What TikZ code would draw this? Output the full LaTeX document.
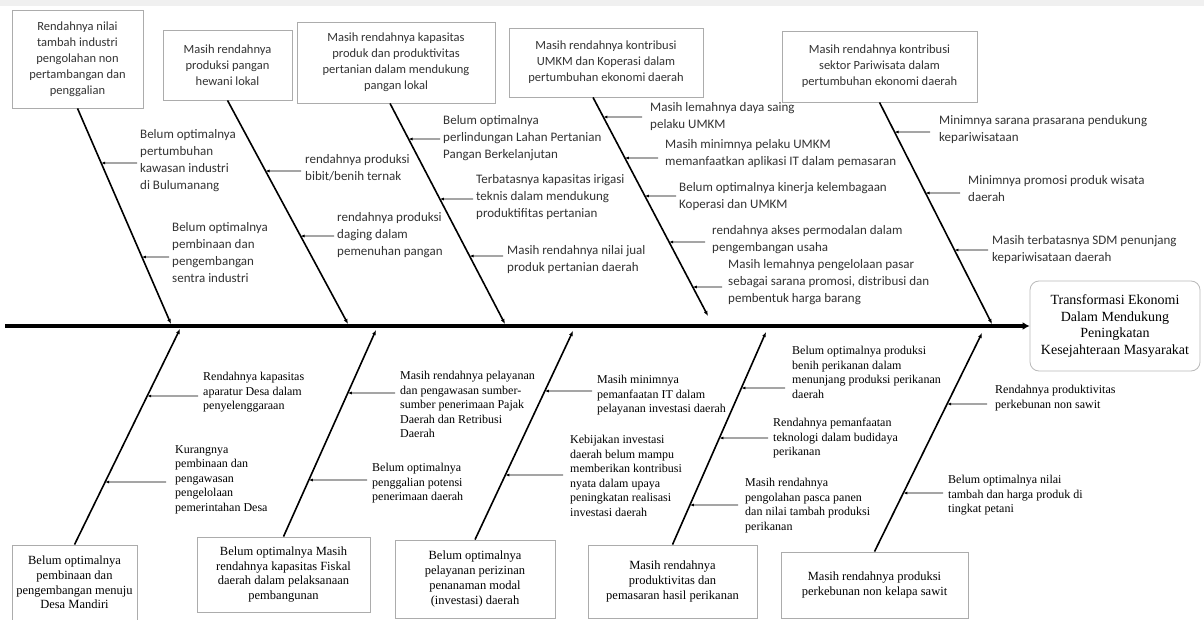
\documentclass[tikz,border=0pt]{standalone}
\usepackage{fontspec}
\setmainfont{Liberation Serif}
\newfontfamily\carl{Carlito}
\usetikzlibrary{arrows.meta}
\newcommand\fbcause[8]{%
  \node[#1] (#2) at (#4,#5) {#8};
  \coordinate (#2s) at (#7,#6);
  \coordinate (#2e) at (intersection of #3s--#3e and 0,#6--10,#6);
  \draw[carrow] (#2s) -- (#2e);}
\begin{document}
\begin{tikzpicture}[x=1pt,y=-1pt,
  tbox/.style={draw=gray!65, line width=0.8pt, fill=white, inner sep=2pt, align=center, font=\carl\fontsize{12.5}{16}\selectfont, text=black!80},
  bbox/.style={draw=gray!65, line width=0.8pt, fill=white, inner sep=2pt, align=center, font=\fontsize{12.5}{14.8}\selectfont},
  ebox/.style={draw=gray!55, line width=0.8pt, rounded corners=9pt, fill=white, align=center, font=\fontsize{14}{16.5}\selectfont},
  tcause/.style={anchor=north west, inner sep=0pt, align=left, font=\carl\fontsize{13}{17}\selectfont, text=black!80},
  bcause/.style={anchor=north west, inner sep=0pt, align=left, font=\fontsize{12}{14.5}\selectfont},
  bone/.style={line width=1.6pt, -{Latex[length=5pt,width=4pt]}},
  carrow/.style={line width=0.8pt, -{Latex[length=4pt,width=3pt]}},
  spine/.style={line width=3.5pt, -{Latex[length=7pt,width=8pt]}}]
\useasboundingbox (0,0) rectangle (1204,620);
\fill[white] (0,0) rectangle (1204,620);
\fill[gray!12] (0,0) rectangle (1204,6);

% top boxes
\node[tbox, minimum width=131pt, minimum height=98pt] (B1) at (77.5,59) {Rendahnya nilai\\tambah industri\\pengolahan non\\pertambangan dan\\penggalian};
\node[tbox, minimum width=129pt, minimum height=70pt] (B2) at (227.5,65) {Masih rendahnya\\produksi pangan\\hewani lokal};
\node[tbox, minimum width=198pt, minimum height=81pt] (B3) at (396,62.5) {Masih rendahnya kapasitas\\produk dan produktivitas\\pertanian dalam mendukung\\pangan lokal};
\node[tbox, minimum width=194pt, minimum height=69pt] (B4) at (606,62.5) {Masih rendahnya kontribusi\\UMKM dan Koperasi dalam\\pertumbuhan ekonomi daerah};
\node[tbox, minimum width=195pt, minimum height=71pt] (B5) at (879.5,66.5) {Masih rendahnya kontribusi\\sektor Pariwisata dalam\\pertumbuhan ekonomi daerah};

% bottom boxes
\node[bbox, minimum width=125pt, minimum height=75pt] (B6) at (74.5,582.5) {Belum optimalnya\\pembinaan dan\\pengembangan menuju\\Desa Mandiri};
\node[bbox, minimum width=173pt, minimum height=75pt] (B7) at (283.5,574.5) {Belum optimalnya Masih\\rendahnya kapasitas Fiskal\\daerah dalam pelaksanaan\\pembangunan};
\node[bbox, minimum width=160pt, minimum height=78pt] (B8) at (475,579) {Belum optimalnya\\pelayanan perizinan\\penanaman modal\\(investasi) daerah};
\node[bbox, minimum width=169pt, minimum height=73pt] (B9) at (672.5,581.5) {Masih rendahnya\\produktivitas dan\\pemasaran hasil perikanan};
\node[bbox, minimum width=187pt, minimum height=66pt] (B10) at (874.5,585) {Masih rendahnya produksi\\perkebunan non kelapa sawit};

% effect
\node[ebox, minimum width=170pt, minimum height=90pt] (E) at (1115,326) {Transformasi Ekonomi\\Dalam Mendukung\\Peningkatan\\Kesejahteraan Masyarakat};

% spine
\coordinate (sp0) at (5,326);
\draw[spine] (sp0) -- (E.west);

% bones
\coordinate (b1s) at (B1.south); \coordinate (b1e) at (171,324);
\coordinate (b2s) at (B2.south); \coordinate (b2e) at (348,324);
\coordinate (b3s) at ([xshift=-6pt]B3.south); \coordinate (b3e) at (505,324);
\coordinate (b4s) at ([xshift=-13pt]B4.south); \coordinate (b4e) at (708,316);
\coordinate (b5s) at (B5.south); \coordinate (b5e) at (992,324);
\coordinate (b6s) at (B6.north); \coordinate (b6e) at (180,329);
\coordinate (b7s) at (B7.north); \coordinate (b7e) at (376,330);
\coordinate (b8s) at (B8.north); \coordinate (b8e) at (573,331);
\coordinate (b9s) at (B9.north); \coordinate (b9e) at (766,332);
\coordinate (b10s) at (B10.north); \coordinate (b10e) at (982,333);
\foreach \i in {1,...,10} {\draw[bone] (b\i s) -- (b\i e);}

% top causes
\fbcause{tcause}{c11}{b1}{140}{129}{163}{137}{Belum optimalnya\\pertumbuhan\\kawasan industri\\di Bulumanang}
\fbcause{tcause}{c12}{b1}{172}{222}{257}{169}{Belum optimalnya\\pembinaan dan\\pengembangan\\sentra industri}
\fbcause{tcause}{c21}{b2}{305}{154}{171}{301}{rendahnya produksi\\bibit/benih ternak}
\fbcause{tcause}{c22}{b2}{337}{212}{236}{334}{rendahnya produksi\\daging dalam\\pemenuhan pangan}
\fbcause{tcause}{c31}{b3}{443}{115}{139}{440}{Belum optimalnya\\perlindungan Lahan Pertanian\\Pangan Berkelanjutan}
\fbcause{tcause}{c32}{b3}{476}{174}{199}{473}{Terbatasnya kapasitas irigasi\\teknis dalam mendukung\\produktifitas pertanian}
\fbcause{tcause}{c33}{b3}{507}{245}{256}{503}{Masih rendahnya nilai jual\\produk pertanian daerah}
\fbcause{tcause}{c41}{b4}{650}{102}{117}{642}{Masih lemahnya daya saing\\pelaku UMKM}
\fbcause{tcause}{c42}{b4}{665}{139}{158}{658}{Masih minimnya pelaku UMKM\\memanfaatkan aplikasi IT dalam pemasaran}
\fbcause{tcause}{c43}{b4}{679}{182}{196}{676}{Belum optimalnya kinerja kelembagaan\\Koperasi dan UMKM}
\fbcause{tcause}{c44}{b4}{712}{225}{242}{705}{rendahnya akses permodalan dalam\\pengembangan usaha}
\fbcause{tcause}{c45}{b4}{728}{259}{287}{722}{Masih lemahnya pengelolaan pasar\\sebagai sarana promosi, distribusi dan\\pembentuk harga barang}
\fbcause{tcause}{c51}{b5}{939}{115}{132}{930}{Minimnya sarana prasarana pendukung\\kepariwisataan}
\fbcause{tcause}{c52}{b5}{968}{175}{193}{960}{Minimnya promosi produk wisata\\daerah}
\fbcause{tcause}{c53}{b5}{992}{235}{250}{988}{Masih terbatasnya SDM penunjang\\kepariwisataan daerah}

% bottom causes
\fbcause{bcause}{d61}{b6}{203}{372}{396}{198}{Rendahnya kapasitas\\aparatur Desa dalam\\penyelenggaraan}
\fbcause{bcause}{d62}{b6}{175}{445}{482}{166}{Kurangnya\\pembinaan dan\\pengawasan\\pengelolaan\\pemerintahan Desa}
\fbcause{bcause}{d71}{b7}{400}{371}{393}{395}{Masih rendahnya pelayanan\\dan pengawasan sumber-\\sumber penerimaan Pajak\\Daerah dan Retribusi\\Daerah}
\fbcause{bcause}{d72}{b7}{372}{463}{480}{367}{Belum optimalnya\\penggalian potensi\\penerimaan daerah}
\fbcause{bcause}{d81}{b8}{597}{375}{391}{592}{Masih minimnya\\pemanfaatan IT dalam\\pelayanan investasi daerah}
\fbcause{bcause}{d82}{b8}{570}{435}{475}{563}{Kebijakan investasi\\daerah belum mampu\\memberikan kontribusi\\nyata dalam upaya\\peningkatan realisasi\\investasi daerah}
\fbcause{bcause}{d91}{b9}{792}{346}{388}{785}{Belum optimalnya produksi\\benih perikanan dalam\\menunjang produksi perikanan\\daerah}
\fbcause{bcause}{d92}{b9}{773}{418}{438}{768}{Rendahnya pemanfaatan\\teknologi dalam budidaya\\perikanan}
\fbcause{bcause}{d93}{b9}{745}{478}{505}{738}{Masih rendahnya\\pengolahan pasca panen\\dan nilai tambah produksi\\perikanan}
\fbcause{bcause}{d101}{b10}{995}{385}{404}{987}{Rendahnya produktivitas\\perkebunan non sawit}
\fbcause{bcause}{d102}{b10}{948}{475}{493}{943}{Belum optimalnya nilai\\tambah dan harga produk di\\tingkat petani}
\end{tikzpicture}
\end{document}
